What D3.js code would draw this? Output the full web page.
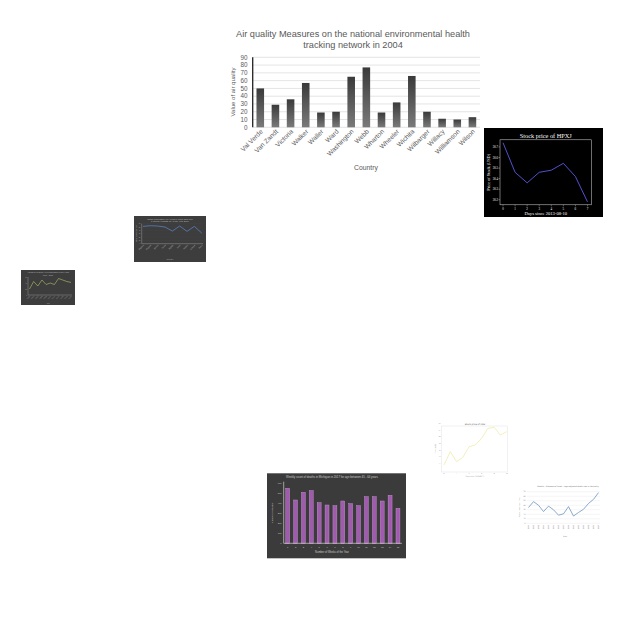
<!DOCTYPE html>
<html><head><meta charset="utf-8">
<script src="https://cdn.jsdelivr.net/npm/d3@7"></script>
<style>html,body{margin:0;padding:0;background:#fff;}svg{display:block;}</style>
</head><body>
<svg id="c" width="640" height="640"></svg>
<script>
// ---------- Main chart: air quality ----------
const counties = ["Val Verde","Van Zandt","Victoria","Walker","Waller","Ward","Washington","Webb","Wharton","Wheeler","Wichita","Wilbarger","Willacy","Williamson","Wilson"];
const airValues = [50,29,36,57,19,20,65,77,19,32,66,20,11,10,13];
const airTicks = [0,10,20,30,40,50,60,70,80,90];

// ---------- Stock price of HPXJ ----------
const stockDays = [0,1,2,3,4,5,6,7];
const stockPrices = [30.74,30.46,30.36,30.46,30.48,30.545,30.42,30.18];
const stockTicks = [30.2,30.3,30.4,30.5,30.6,30.7];

// ---------- Weekly deaths (purple bars) ----------
const weeks = [1,2,3,4,5,6,7,8,9,10,11,12,13,14,15];
const weeklyDeaths = [550,433,510,527,407,383,377,423,397,377,467,467,423,480,350];
const deathTicks = [0,100,200,300,400,500,600];

// ---------- Small dark line chart (blue) ----------
const urbanCountries = ["Algeria","Angola","Brazil","Chile","Egypt","India","Japan","Kenya","Peru"];
const urbanValues = [52,54,53,50,38,53,37,52,32];

// ---------- Small dark line chart (green) ----------
const greenLabels = ["1990","1992","1994","1996","1998","2000","2002","2004","2006","2008","2010"];
const greenValues = [20,45,30,50,35,40,35,55,50,45,42];

// ---------- Small white line chart (yellow) ----------
const yellowDays = [0,1,2,3,4,5,6,7,8,9,10];
const yellowValues = [21.5,25.5,22.5,23.8,27,27.5,29.5,32.5,32.8,30.5,31.5];

// ---------- Small white line chart (blue, years) ----------
const rateYears = ["2000","2001","2002","2003","2004","2005","2006","2007","2008","2009","2010","2011","2012","2013","2014"];
const rateValues = [35,48,40,26,38,30,18,21,37,16,24,31,44,53,68];
const rateTicks = [0,10,20,30,40,50,60,70];

const svg = d3.select("#c");
const defs = svg.append("defs");

// ===== Main chart =====
(function(){
  const g = svg.append("g");
  const grad = defs.append("linearGradient").attr("id","barGrad").attr("x1",0).attr("y1",0).attr("x2",0).attr("y2",1);
  grad.append("stop").attr("offset","0%").attr("stop-color","#3a3a3a");
  grad.append("stop").attr("offset","100%").attr("stop-color","#7a7a7a");
  const x = d3.scaleBand().domain(counties).range([252.7,480]).paddingInner(0.5).paddingOuter(0.25);
  const y = d3.scaleLinear().domain([0,90]).range([127.3,57.3]);
  const font = "'Liberation Sans Narrow','Liberation Sans',Arial,sans-serif";
  g.append("text").attr("x",353).attr("y",37).attr("text-anchor","middle").attr("font-family",font).attr("font-size",9.2).attr("fill","#595959")
    .text("Air quality Measures on the national environmental health");
  g.append("text").attr("x",353).attr("y",47.5).attr("text-anchor","middle").attr("font-family",font).attr("font-size",9.2).attr("fill","#595959")
    .text("tracking network in 2004");
  g.selectAll("line.grid").data(airTicks).join("line").attr("class","grid")
    .attr("x1",252.7).attr("x2",480).attr("y1",d=>y(d)).attr("y2",d=>y(d)).attr("stroke","#d9d9d9").attr("stroke-width",0.7);
  g.selectAll("text.yt").data(airTicks).join("text").attr("class","yt")
    .attr("x",247.5).attr("y",d=>y(d)+2.2).attr("text-anchor","end").attr("font-family","'Liberation Sans',Arial,sans-serif").attr("font-size",6.3).attr("fill","#595959").text(d=>d);
  g.selectAll("rect.bar").data(airValues).join("rect").attr("class","bar")
    .attr("x",(d,i)=>x(counties[i])).attr("width",x.bandwidth()).attr("y",d=>y(d)).attr("height",d=>y(0)-y(d)).attr("fill","url(#barGrad)");
  g.append("line").attr("x1",252.7).attr("x2",252.7).attr("y1",57.3).attr("y2",127.3).attr("stroke","#222").attr("stroke-width",1.3);
  g.selectAll("text.xt").data(counties).join("text").attr("class","xt")
    .attr("transform",d=>`translate(${x(d)+x.bandwidth()/2+3},${132}) rotate(-45)`)
    .attr("text-anchor","end").attr("font-family","'Liberation Sans',Arial,sans-serif").attr("font-size",6.6).attr("fill","#595959").text(d=>d);
  g.append("text").attr("x",366).attr("y",169.5).attr("text-anchor","middle").attr("font-family","'Liberation Sans',Arial,sans-serif").attr("font-size",6.8).attr("fill","#595959").text("Country");
  g.append("text").attr("transform","translate(235,92) rotate(-90)").attr("text-anchor","middle").attr("font-family","'Liberation Sans',Arial,sans-serif").attr("font-size",6).attr("fill","#595959").text("Value of air quality");
})();

// ===== Stock chart =====
(function(){
  const g = svg.append("g");
  const serif = "'Liberation Serif','DejaVu Serif',serif";
  g.append("rect").attr("x",484).attr("y",128).attr("width",119).attr("height",89).attr("fill","#000");
  const x = d3.scaleLinear().domain([-0.25,7.35]).range([500,591.7]);
  const y = d3.scaleLinear().domain([30.152,30.768]).range([204.8,139.8]);
  g.append("rect").attr("x",500).attr("y",139.8).attr("width",91.7).attr("height",65).attr("fill","none").attr("stroke","#ddd").attr("stroke-width",0.5);
  g.append("text").attr("x",545.8).attr("y",138).attr("text-anchor","middle").attr("font-family",serif).attr("font-size",6.3).attr("fill","#fff").text("Stock price of HPXJ");
  g.selectAll("line.xt").data(stockDays).join("line").attr("class","xt").attr("x1",d=>x(d)).attr("x2",d=>x(d)).attr("y1",204.8).attr("y2",206.3).attr("stroke","#ddd").attr("stroke-width",0.4);
  g.selectAll("text.xt").data(stockDays).join("text").attr("class","xt").attr("x",d=>x(d)).attr("y",209.5).attr("text-anchor","middle").attr("font-family",serif).attr("font-size",3.2).attr("fill","#fff").text(d=>d);
  g.selectAll("line.yt").data(stockTicks).join("line").attr("class","yt").attr("x1",498.5).attr("x2",500).attr("y1",d=>y(d)).attr("y2",d=>y(d)).attr("stroke","#ddd").attr("stroke-width",0.4);
  g.selectAll("text.yt").data(stockTicks).join("text").attr("class","yt").attr("x",498).attr("y",d=>y(d)+1.1).attr("text-anchor","end").attr("font-family",serif).attr("font-size",3).attr("fill","#fff").text(d=>d.toFixed(1));
  g.append("path").datum(stockPrices).attr("fill","none").attr("stroke","#5a5ae6").attr("stroke-width",0.9)
    .attr("d",d3.line().x((d,i)=>x(stockDays[i])).y(d=>y(d)));
  g.append("text").attr("x",545.8).attr("y",214.5).attr("text-anchor","middle").attr("font-family",serif).attr("font-size",4.6).attr("fill","#fff").text("Days since 2013-08-10");
  g.append("text").attr("transform","translate(490,172.3) rotate(-90)").attr("text-anchor","middle").attr("font-family",serif).attr("font-size",4.3).attr("fill","#fff").text("Price of Stock (USD)");
})();

// ===== Small dark blue line chart =====
(function(){
  const g = svg.append("g");
  const f = "'Liberation Sans',Arial,sans-serif";
  g.append("rect").attr("x",134).attr("y",216).attr("width",72).attr("height",46).attr("fill","#3d3d3d");
  g.append("text").attr("x",170).attr("y",219.5).attr("text-anchor","middle").attr("font-family",f).attr("font-size",2.3).attr("fill","#bbb").text("Urban population (%) living in cities with over");
  g.append("text").attr("x",170).attr("y",222.3).attr("text-anchor","middle").attr("font-family",f).attr("font-size",2.3).attr("fill","#bbb").text("1 million (%URBAN) in the year 2000");
  const x = d3.scalePoint().domain(urbanCountries).range([143,201.7]);
  const y = d3.scaleLinear().domain([0,60]).range([243.7,223.7]);
  g.selectAll("line.gr").data([0,10,20,30,40,50,60]).join("line").attr("class","gr").attr("x1",141.7).attr("x2",203).attr("y1",d=>y(d)).attr("y2",d=>y(d)).attr("stroke","#4a4a4a").attr("stroke-width",0.3);
  g.selectAll("text.yt").data([0,10,20,30,40,50,60]).join("text").attr("class","yt").attr("x",140.5).attr("y",d=>y(d)+0.6).attr("text-anchor","end").attr("font-family",f).attr("font-size",1.6).attr("fill","#aaa").text(d=>d);
  g.append("line").attr("x1",141.7).attr("x2",141.7).attr("y1",223.7).attr("y2",243.7).attr("stroke","#999").attr("stroke-width",0.5);
  g.append("line").attr("x1",141.7).attr("x2",203).attr("y1",243.7).attr("y2",243.7).attr("stroke","#999").attr("stroke-width",0.5);
  g.append("path").datum(urbanValues).attr("fill","none").attr("stroke","#5b7fc0").attr("stroke-width",0.8)
    .attr("d",d3.line().x((d,i)=>x(urbanCountries[i])).y(d=>y(d)));
  g.selectAll("text.xt").data(urbanCountries).join("text").attr("class","xt")
    .attr("transform",d=>`translate(${x(d)+1},245.5) rotate(-45)`).attr("text-anchor","end").attr("font-family",f).attr("font-size",2.2).attr("fill","#aaa").text(d=>d);
  g.append("text").attr("x",170).attr("y",259.5).attr("text-anchor","middle").attr("font-family",f).attr("font-size",2).attr("fill","#aaa").text("Country");
  g.append("text").attr("transform","translate(137,233.7) rotate(-90)").attr("text-anchor","middle").attr("font-family",f).attr("font-size",1.8).attr("fill","#aaa").text("Urban population (%)");
})();

// ===== Small dark green line chart =====
(function(){
  const g = svg.append("g");
  const f = "'Liberation Sans',Arial,sans-serif";
  g.append("rect").attr("x",21).attr("y",270).attr("width",54).attr("height",35).attr("fill","#3d3d3d");
  g.append("text").attr("x",48).attr("y",273.4).attr("text-anchor","middle").attr("font-family",f).attr("font-size",1.9).attr("fill","#bbb").text("Access to electricity (% of population) in the years");
  g.append("text").attr("x",48).attr("y",275.6).attr("text-anchor","middle").attr("font-family",f).attr("font-size",1.9).attr("fill","#bbb").text("1990 - 2010");
  const x = d3.scalePoint().domain(greenLabels).range([29.5,71]);
  const y = d3.scaleLinear().domain([0,60]).range([295,277]);
  g.append("line").attr("x1",28).attr("x2",28).attr("y1",277).attr("y2",295).attr("stroke","#aaa").attr("stroke-width",0.4);
  g.append("line").attr("x1",28).attr("x2",72).attr("y1",295).attr("y2",295).attr("stroke","#aaa").attr("stroke-width",0.4);
  g.selectAll("text.yt").data([0,20,40,60]).join("text").attr("class","yt").attr("x",27).attr("y",d=>y(d)+0.5).attr("text-anchor","end").attr("font-family",f).attr("font-size",1.5).attr("fill","#aaa").text(d=>d);
  g.append("path").datum(greenValues).attr("fill","none").attr("stroke","#b5c46a").attr("stroke-width",0.6)
    .attr("d",d3.line().x((d,i)=>x(greenLabels[i])).y(d=>y(d)));
  g.selectAll("text.xt").data(greenLabels).join("text").attr("class","xt")
    .attr("transform",d=>`translate(${x(d)+0.8},296.3) rotate(-45)`).attr("text-anchor","end").attr("font-family",f).attr("font-size",1.8).attr("fill","#aaa").text(d=>d);
  g.append("text").attr("x",48).attr("y",303.5).attr("text-anchor","middle").attr("font-family",f).attr("font-size",1.6).attr("fill","#aaa").text("Year");
})();

// ===== Purple bar chart =====
(function(){
  const g = svg.append("g");
  const f = "'Liberation Sans',Arial,sans-serif";
  g.append("rect").attr("x",267).attr("y",473.3).attr("width",139).attr("height",85).attr("fill","#3b3b3b");
  g.append("text").attr("x",332).attr("y",478).attr("text-anchor","middle").attr("font-family",f).attr("font-size",2.8).attr("fill","#ccc").text("Weekly count of deaths in Michigan in 2017 for age between 45 - 64 years");
  const x = d3.scaleBand().domain(weeks).range([283.7,401.9]).paddingInner(0.5).paddingOuter(0.25);
  const y = d3.scaleLinear().domain([0,600]).range([543.3,483.3]);
  g.selectAll("text.yt").data(deathTicks).join("text").attr("class","yt").attr("x",281.5).attr("y",d=>y(d)+0.8).attr("text-anchor","end").attr("font-family",f).attr("font-size",2.3).attr("fill","#ccc").text(d=>d);
  g.selectAll("rect.bar").data(weeklyDeaths).join("rect").attr("class","bar")
    .attr("x",(d,i)=>x(weeks[i])).attr("width",x.bandwidth()).attr("y",d=>y(d)).attr("height",d=>y(0)-y(d))
    .attr("fill","#a05aae").attr("stroke","#c99bd2").attr("stroke-width",0.4);
  g.append("line").attr("x1",283.7).attr("x2",283.7).attr("y1",481.7).attr("y2",543.3).attr("stroke","#e8e8e8").attr("stroke-width",0.6);
  g.append("line").attr("x1",283.7).attr("x2",401.9).attr("y1",543.3).attr("y2",543.3).attr("stroke","#e8e8e8").attr("stroke-width",0.6);
  g.selectAll("text.xt").data(weeks).join("text").attr("class","xt").attr("x",d=>x(d)+x.bandwidth()/2).attr("y",547.8).attr("text-anchor","middle").attr("font-family",f).attr("font-size",2.3).attr("fill","#ccc").text(d=>d);
  g.append("text").attr("x",332).attr("y",552.5).attr("text-anchor","middle").attr("font-family",f).attr("font-size",2.6).attr("fill","#ccc").text("Number of Weeks of the Year");
  g.append("text").attr("transform","translate(273,513) rotate(-90)").attr("text-anchor","middle").attr("font-family",f).attr("font-size",2.5).attr("fill","#ccc").text("Number of Deaths");
})();

// ===== Small white yellow line chart =====
(function(){
  const g = svg.append("g");
  const f = "'DejaVu Sans',sans-serif";
  const x = d3.scaleLinear().domain([0,10]).range([444,506.7]);
  const y = d3.scaleLinear().domain([20,35]).range([470,420]);
  g.append("rect").attr("x",441.7).attr("y",426).attr("width",66).attr("height",46).attr("fill","none").attr("stroke","#ddd").attr("stroke-width",0.4);
  g.append("text").attr("x",475).attr("y",425).attr("text-anchor","middle").attr("font-family",f).attr("font-size",2.2).attr("fill","#555").text("Stock price of AMZ");
  g.selectAll("text.yt").data([22,24,26,28,30,32,34]).join("text").attr("class","yt").attr("x",440.5).attr("y",d=>y(d)+0.6).attr("text-anchor","end").attr("font-family",f).attr("font-size",1.5).attr("fill","#777").text(d=>d);
  g.selectAll("text.xt").data([0,2,4,6,8,10]).join("text").attr("class","xt").attr("x",d=>x(d)).attr("y",474).attr("text-anchor","middle").attr("font-family",f).attr("font-size",1.5).attr("fill","#777").text(d=>d);
  g.append("path").datum(yellowValues).attr("fill","none").attr("stroke","#eee8a0").attr("stroke-width",0.7)
    .attr("d",d3.line().x((d,i)=>x(yellowDays[i])).y(d=>y(d)));
  g.append("text").attr("x",475).attr("y",476.5).attr("text-anchor","middle").attr("font-family",f).attr("font-size",1.6).attr("fill","#777").text("Days since 2013-05-22");
  g.append("text").attr("transform","translate(436,449) rotate(-90)").attr("text-anchor","middle").attr("font-family",f).attr("font-size",1.6).attr("fill","#777").text("Price (USD)");
})();

// ===== Small white blue year chart =====
(function(){
  const g = svg.append("g");
  const f = "'DejaVu Sans',sans-serif";
  const x = d3.scalePoint().domain(rateYears).range([528.5,598.5]);
  const y = d3.scaleLinear().domain([0,70]).range([523.3,491.7]);
  g.append("text").attr("x",568).attr("y",487).attr("text-anchor","middle").attr("font-family",f).attr("font-size",1.9).attr("fill","#666").text("Deaths - Diseases of heart - Age-adjusted death rate in Kentucky");
  g.selectAll("line.gr").data(rateTicks).join("line").attr("class","gr").attr("x1",526.7).attr("x2",600).attr("y1",d=>y(d)).attr("y2",d=>y(d)).attr("stroke","#e6e6e6").attr("stroke-width",0.4);
  g.selectAll("text.yt").data(rateTicks).join("text").attr("class","yt").attr("x",525.5).attr("y",d=>y(d)+0.6).attr("text-anchor","end").attr("font-family",f).attr("font-size",1.6).attr("fill","#777").text(d=>d);
  g.append("path").datum(rateValues).attr("fill","none").attr("stroke","#5a86b8").attr("stroke-width",0.7)
    .attr("d",d3.line().x((d,i)=>x(rateYears[i])).y(d=>y(d)));
  g.selectAll("text.xt").data(rateYears).join("text").attr("class","xt")
    .attr("transform",d=>`translate(${x(d)+0.6},524.8) rotate(-90)`).attr("text-anchor","end").attr("font-family",f).attr("font-size",1.7).attr("fill","#777").text(d=>d);
  g.append("text").attr("x",565).attr("y",537).attr("text-anchor","middle").attr("font-family",f).attr("font-size",1.8).attr("fill","#777").text("Year");
  g.append("text").attr("transform","translate(520,507.5) rotate(-90)").attr("text-anchor","middle").attr("font-family",f).attr("font-size",1.6).attr("fill","#777").text("Age-adjusted death rate");
})();
</script>
</body></html>
